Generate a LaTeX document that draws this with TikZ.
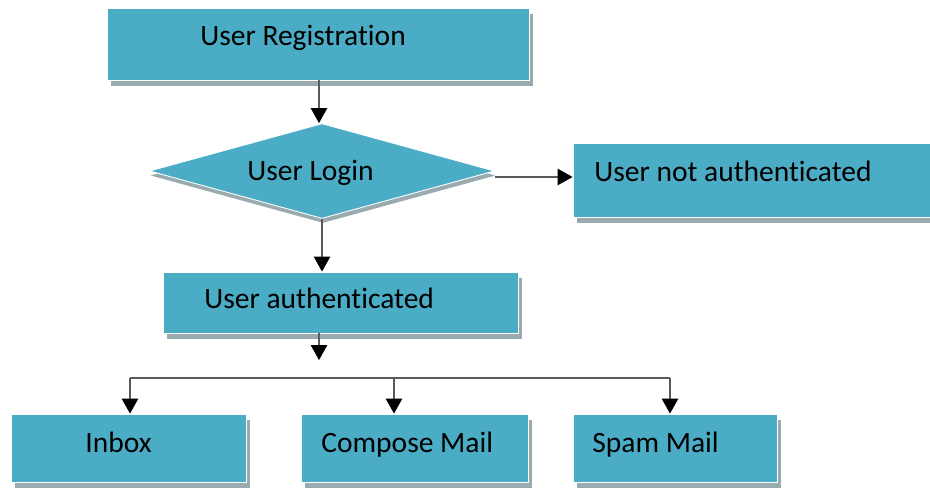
\documentclass[tikz,border=0pt]{standalone}
\usepackage{fontspec}
\setmainfont[Ligatures=NoCommon]{Carlito}
\usetikzlibrary{shapes.geometric, arrows.meta, shadows}
\definecolor{boxblue}{HTML}{4BACC6}
\definecolor{shadowgray}{HTML}{9AABB0}
\definecolor{linegray}{HTML}{5A5A5A}
\tikzstyle{box} = [rectangle, draw=white, line width=0.5pt, fill=boxblue, inner sep=0,
  general shadow={shadow xshift=0.08cm, shadow yshift=-0.12cm, fill=shadowgray}]
\tikzstyle{decision} = [diamond, draw=white, line width=0.5pt, fill=boxblue, inner sep=0,
  general shadow={shadow xshift=0.02cm, shadow yshift=-0.09cm, fill=shadowgray}]
\tikzstyle{txt} = [anchor=base west, inner sep=0, font=\fontsize{16.8}{20}\selectfont]
\tikzstyle{arrow} = [linegray, line width=0.6pt, -{Triangle[length=0.3cm, width=0.33cm, color=black]}]
\tikzstyle{line} = [linegray, line width=0.6pt]

\begin{document}
\begin{tikzpicture}[x=0.02cm, y=-0.02cm]
\useasboundingbox (0,0) rectangle (930,487);
\node[box, minimum width=422*0.02cm, minimum height=72*0.02cm] (reg) at (318,44) {};
\node[decision, minimum width=345*0.02cm, minimum height=95*0.02cm, aspect=3.6] (login) at (322,171) {};
\node[box, minimum width=359*0.02cm, minimum height=74*0.02cm] (notauth) at (752.5,180) {};
\node[box, minimum width=355*0.02cm, minimum height=61*0.02cm] (auth) at (340.5,302.5) {};
\node[box, minimum width=235*0.02cm, minimum height=68*0.02cm] (inbox) at (128.5,448) {};
\node[box, minimum width=227*0.02cm, minimum height=68*0.02cm] (compose) at (414.5,448) {};
\node[box, minimum width=204*0.02cm, minimum height=68*0.02cm] (spam) at (675,448) {};
% texts
\node[txt] (regtxt) at (200,45) {User Registration};
\node[txt] (logintxt) at (247,180) {User Login};
\node[txt] (notauthtxt) at (594,181) {User not authenticated};
\node[txt] (authtxt) at (204,308) {User authenticated};
\node[txt] (inboxtxt) at (85,452) {Inbox};
\node[txt] (composetxt) at (321,452) {Compose Mail};
\node[txt] (spamtxt) at (592,452) {Spam Mail};
% connectors
\coordinate (split) at (319,360);
\coordinate (b1) at (130,378);
\coordinate (b2) at (394,378);
\coordinate (b3) at (670,378);
\draw[arrow] (reg.south -| 319,0) -- (319,0 |- login.north);
\draw[arrow] (login.south) -- (login.south |- auth.north);
\draw[arrow] (login.east |- 0,177) -- (notauth.west |- 0,177);
\draw[arrow] (auth.south -| split) -- (split);
\draw[line] (b1) -- (b3);
\draw[arrow] (b1) -- (b1 |- inbox.north);
\draw[arrow] (b2) -- (b2 |- compose.north);
\draw[arrow] (b3) -- (b3 |- spam.north);
\end{tikzpicture}
\end{document}
